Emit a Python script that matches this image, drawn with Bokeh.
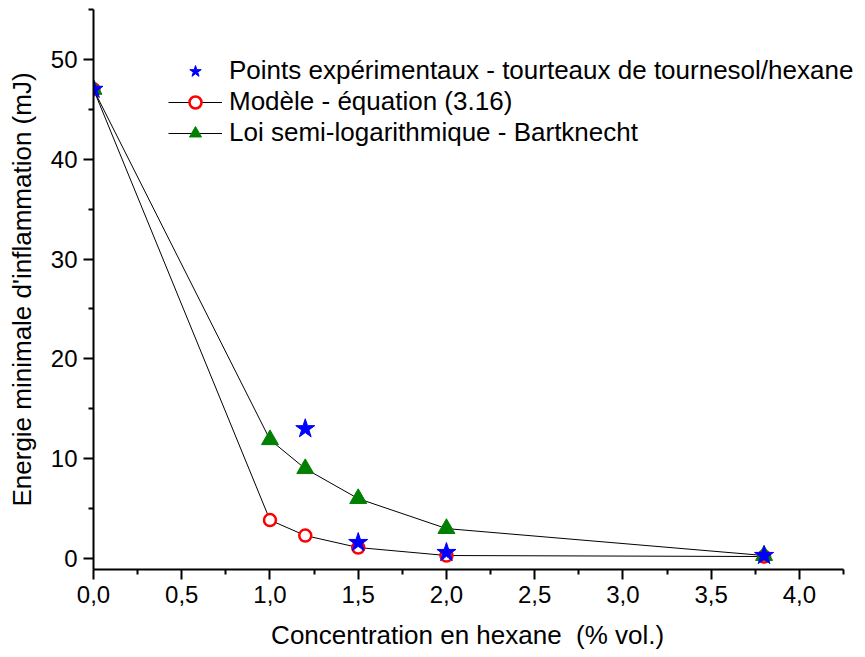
from bokeh.plotting import figure
from bokeh.models import FixedTicker, Range1d, Legend, LegendItem
from bokeh.embed import file_html
from bokeh.resources import INLINE

# data
x_exp = [0.0, 1.2, 1.5, 2.0, 3.8]
y_exp = [47.0, 13.0, 1.6, 0.6, 0.3]
x_mod = [0.0, 1.0, 1.2, 1.5, 2.0, 3.8]
y_mod = [47.0, 3.85, 2.3, 1.1, 0.3, 0.2]
x_bart = [0.0, 1.0, 1.2, 1.5, 2.0, 3.8]
y_bart = [47.0, 11.9, 9.0, 6.0, 3.0, 0.3]
x_ticks = [0.0, 0.5, 1.0, 1.5, 2.0, 2.5, 3.0, 3.5, 4.0]
x_tick_labels = ["0,0", "0,5", "1,0", "1,5", "2,0", "2,5", "3,0", "3,5", "4,0"]
x_minor = [0.25, 0.75, 1.25, 1.75, 2.25, 2.75, 3.25, 3.75, 4.25]
y_ticks = [0, 10, 20, 30, 40, 50]
y_minor = [5, 15, 25, 35, 45, 55]
labels = ["Points expérimentaux - tourteaux de tournesol/hexane",
          "Modèle - équation (3.16)",
          "Loi semi-logarithmique - Bartknecht"]
x_title = "Concentration en hexane\u00a0 (% vol.)"
y_title = "Energie minimale d'inflammation (mJ)"
x_axis_end = 4.25

FONT = "Liberation Sans"

FW = 770
p = figure(frame_width=FW, frame_height=560, output_backend="svg",
           toolbar_location=None, x_range=Range1d(0, x_axis_end * FW / 750),
           y_range=Range1d(-1.1, 55),
           min_border_left=93, min_border_right=0, min_border_top=9, min_border_bottom=76)
p.outline_line_color = None
p.xgrid.visible = False
p.ygrid.visible = False
p.background_fill_color = "white"

for ax in (p.xaxis[0], p.yaxis[0]):
    ax.axis_line_width = 2
    ax.major_tick_line_width = 2
    ax.minor_tick_line_width = 2
    ax.major_tick_out = 10
    ax.major_tick_in = 0
    ax.minor_tick_out = 5
    ax.minor_tick_in = 0
    ax.major_label_text_font = FONT
    ax.major_label_text_font_size = "24px"
    ax.major_label_text_color = "black"
    ax.axis_label_text_font = FONT
    ax.axis_label_text_font_style = "normal"
    ax.axis_label_text_color = "black"

p.xaxis.bounds = (0, x_axis_end)
p.xaxis.axis_label_text_font_size = "26px"
p.yaxis.axis_label_text_font_size = "26px"
p.xaxis.ticker = FixedTicker(ticks=x_ticks, minor_ticks=x_minor)
p.xaxis.major_label_overrides = {t: l for t, l in zip(x_ticks, x_tick_labels)}
p.yaxis.ticker = FixedTicker(ticks=y_ticks, minor_ticks=y_minor)
# trailing no-break spaces re-centre the label under the visible axis span
p.xaxis.axis_label = x_title + "\u00a0\u00a0\u00a0"
p.yaxis.axis_label = y_title
p.xaxis.major_label_standoff = 6
p.yaxis.major_label_standoff = 6
p.xaxis.axis_label_standoff = 14
p.yaxis.axis_label_standoff = 11

l_mod = p.line(x_mod, y_mod, line_color="black", line_width=1)
l_bart = p.line(x_bart, y_bart, line_color="black", line_width=1)
s_mod = p.scatter(x_mod, y_mod, marker="circle", size=12, fill_color="white",
                  line_color="red", line_width=2.5)
s_bart = p.scatter(x_bart, y_bart, marker="triangle", size=17, fill_color="green",
                   line_color="green")
s_exp = p.scatter(x_exp, y_exp, marker="star", size=20, fill_color="blue",
                  line_color="blue")

legend = Legend(items=[LegendItem(label=labels[0], renderers=[s_exp]),
                       LegendItem(label=labels[1], renderers=[l_mod, s_mod]),
                       LegendItem(label=labels[2], renderers=[l_bart, s_bart])],
                location=(75, 421), orientation="vertical")
legend.border_line_color = None
legend.background_fill_alpha = 0
legend.padding = 0
legend.margin = 0
legend.spacing = 0
legend.glyph_width = 54
legend.glyph_height = 30
legend.label_height = 30
legend.label_standoff = 7
legend.label_text_font = FONT
legend.label_text_font_size = "26px"
legend.label_text_color = "black"
p.add_layout(legend, "center")

open("out.html", "w").write(file_html(p, INLINE))
